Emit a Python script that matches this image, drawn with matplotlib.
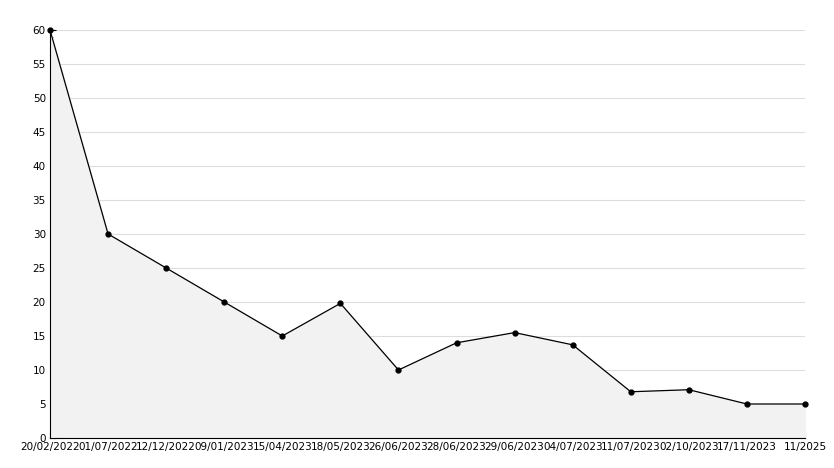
import matplotlib
matplotlib.use("Agg")
import matplotlib.pyplot as plt
from matplotlib.ticker import MultipleLocator

labels = ["20/02/2022","01/07/2022","12/12/2022","09/01/2023","15/04/2023","18/05/2023",
          "26/06/2023","28/06/2023","29/06/2023","04/07/2023","11/07/2023","02/10/2023",
          "17/11/2023","11/2025"]
values = [60, 30, 25, 20, 15, 19.8, 10, 14, 15.5, 13.7, 6.8, 7.1, 5, 5]

fig = plt.figure(figsize=(8.34, 4.68), dpi=100)
ax = fig.add_axes([50/834, 30/468, 755/834, 408/468])
x = list(range(len(values)))
ax.fill_between(x, values, 0, color="#f2f2f2", zorder=1)
ax.plot(x, values, color="black", lw=0.9, marker="o", ms=3.5, zorder=3, clip_on=False)
ax.set_xlim(0, len(values)-1)
ax.set_ylim(0, 60)
ax.yaxis.set_major_locator(MultipleLocator(5))
ax.yaxis.set_minor_locator(MultipleLocator(1))
ax.grid(axis="y", color="#dddddd", lw=0.8, zorder=0)
ax.set_axisbelow(True)
ax.set_xticks(x)
ax.set_xticklabels(labels)
for s in ["top", "right"]:
    ax.spines[s].set_visible(False)
ax.tick_params(direction="in", labelsize=7.5, length=4, pad=3)
ax.tick_params(which="minor", direction="in", length=2)
fig.savefig("out.png", dpi=100)
